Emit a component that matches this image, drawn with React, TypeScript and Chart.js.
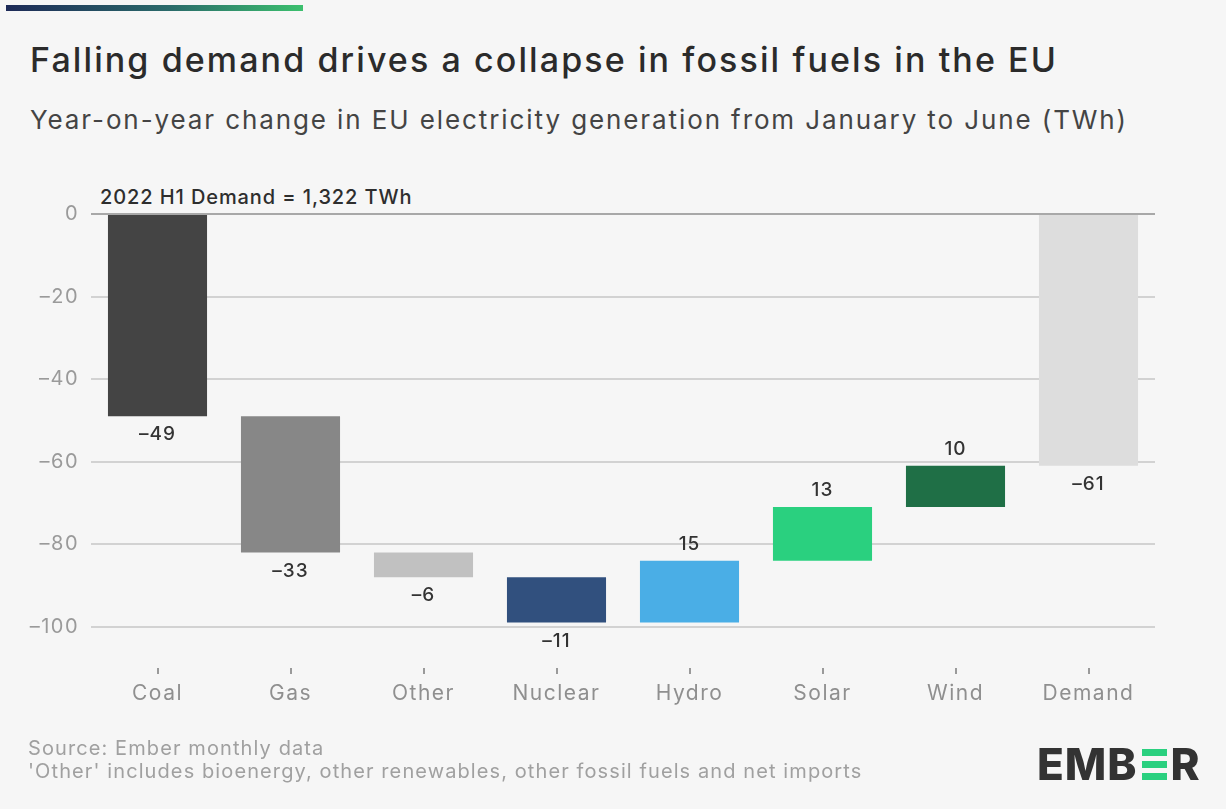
import React, { useEffect, useRef } from "react";
import { Chart, registerables } from "chart.js";

Chart.register(...registerables);

const categories = ["Coal", "Gas", "Other", "Nuclear", "Hydro", "Solar", "Wind", "Demand"];
const changes = [-49, -33, -6, -11, 15, 13, 10, -61];
const barColors = ["#444444", "#878787", "#c1c1c1", "#31507e", "#4aaee6", "#2ad07f", "#1f6f46", "#dddddd"];
const yTicks = [0, -20, -40, -60, -80, -100];

const FONT = "Inter, 'Noto Sans', sans-serif";

function buildRanges(): [number, number][] {
  const out: [number, number][] = [];
  let run = 0;
  changes.forEach((c, i) => {
    if (i === changes.length - 1) {
      out.push([0, c]);
    } else {
      out.push([run, run + c]);
      run += c;
    }
  });
  return out;
}

const spacing = {
  id: "spacing",
  beforeDraw(chart: any) {
    chart.ctx.letterSpacing = "1.5px";
  },
};

const valueLabels = {
  id: "valueLabels",
  afterDatasetsDraw(chart: any) {
    const ctx = chart.ctx;
    const meta = chart.getDatasetMeta(0);
    const ranges = chart.data.datasets[0].data as [number, number][];
    const y = chart.scales.y;
    ctx.save();
    ctx.letterSpacing = "1px";
    ctx.font = `500 19px ${FONT}`;
    ctx.fillStyle = "#333333";
    ctx.textAlign = "center";
    meta.data.forEach((bar: any, i: number) => {
      const v = changes[i];
      const end = ranges[i][1];
      const py = y.getPixelForValue(end);
      if (v < 0) {
        ctx.textBaseline = "top";
        ctx.fillText(String(v).replace("-", "\u2013"), bar.x, py + 9);
      } else {
        ctx.textBaseline = "bottom";
        ctx.fillText(String(v), bar.x, py - 7);
      }
    });
    ctx.restore();
  },
};

function ChartBox() {
  const ref = useRef<HTMLCanvasElement | null>(null);
  useEffect(() => {
    if (!ref.current) return;
    const chart = new Chart(ref.current, {
      type: "bar",
      data: {
        labels: categories,
        datasets: [
          {
            data: buildRanges() as any,
            backgroundColor: barColors,
            borderWidth: 0,
            barPercentage: 0.745,
            categoryPercentage: 1,
          },
        ],
      },
      options: {
        animation: false,
        responsive: false,
        maintainAspectRatio: false,
        layout: { padding: { left: 0, right: 71, top: 64, bottom: 0 } },
        plugins: { legend: { display: false }, tooltip: { enabled: false } },
        scales: {
          x: {
            border: { display: false },
            grid: {
              display: true,
              offset: false,
              drawOnChartArea: false,
              drawTicks: true,
              tickLength: 6,
              color: "#9a9a9a",
              lineWidth: 2,
            },
            ticks: {
              color: "#8f8f8f",
              font: { family: FONT, size: 21 },
              padding: 7,
            },
            afterFit(scale: any) {
              scale.height = 82;
            },
          },
          y: {
            min: -110,
            max: 0,
            border: { display: false },
            grid: {
              drawTicks: false,
              color: (c: any) => (c.tick && c.tick.value === 0 ? "#a8a8a8" : "#d2d2d2"),
              lineWidth: 2,
            },
            ticks: {
              color: "#9a9a9a",
              font: { family: FONT, size: 20 },
              padding: 12,
              callback: (v: any) => String(v).replace("-", "\u2013"),
            },
            afterBuildTicks(scale: any) {
              scale.ticks = yTicks.map((v) => ({ value: v }));
            },
            afterFit(scale: any) {
              scale.width = 91;
            },
          },
        },
      },
      plugins: [spacing, valueLabels],
    });
    return () => chart.destroy();
  }, []);
  return <canvas ref={ref} width={1226} height={600} style={{ position: "absolute", left: 0, top: 150, width: 1226, height: 600 }} />;
}

function Logo() {
  const dark = "#333333";
  return (
    <div style={{ position: "absolute", left: 1037, top: 744, height: 40, display: "flex", alignItems: "center", fontFamily: FONT, fontWeight: 800, fontSize: 44, color: dark, letterSpacing: 1, lineHeight: "40px" }}>
      <span>EMB</span>
      <span style={{ display: "inline-flex", flexDirection: "column", justifyContent: "space-between", width: 25, height: 31, margin: "0 4px 0 4px" }}>
        <span style={{ display: "block", height: 7, background: "#2ad07f" }} />
        <span style={{ display: "block", height: 7, background: "#2ad07f" }} />
        <span style={{ display: "block", height: 7, background: "#2ad07f" }} />
      </span>
      <span>R</span>
    </div>
  );
}

export default function App() {
  return (
    <div style={{ position: "relative", width: 1226, height: 809, background: "#f6f6f6", overflow: "hidden", fontFamily: FONT }}>
      <style>{`body{margin:0;}`}</style>
      <div style={{ position: "absolute", left: 6, top: 5, width: 297, height: 6, background: "linear-gradient(90deg, #1d2a57 0%, #2a6a6a 55%, #3cc06e 100%)" }} />
      <div style={{ position: "absolute", left: 30, top: 38, fontSize: 34, fontWeight: 500, color: "#2b2b2b", whiteSpace: "nowrap", lineHeight: "44px", letterSpacing: 2.1 }}>
        Falling demand drives a collapse in fossil fuels in the EU
      </div>
      <div style={{ position: "absolute", left: 30, top: 103, fontSize: 26, fontWeight: 400, color: "#444444", whiteSpace: "nowrap", lineHeight: "34px", letterSpacing: 1.9 }}>
        Year-on-year change in EU electricity generation from January to June (TWh)
      </div>
      <div style={{ position: "absolute", left: 100, top: 184, fontSize: 20, fontWeight: 500, color: "#2e2e2e", whiteSpace: "nowrap", lineHeight: "26px", letterSpacing: 0.9 }}>
        2022 H1 Demand = 1,322 TWh
      </div>
      <ChartBox />
      <div style={{ position: "absolute", left: 28, top: 737, fontSize: 20, color: "#a0a0a0", lineHeight: "23px", whiteSpace: "nowrap", letterSpacing: 1.1 }}>
        <div>Source: Ember monthly data</div>
        <div>'Other' includes bioenergy, other renewables, other fossil fuels and net imports</div>
      </div>
      <Logo />
    </div>
  );
}
